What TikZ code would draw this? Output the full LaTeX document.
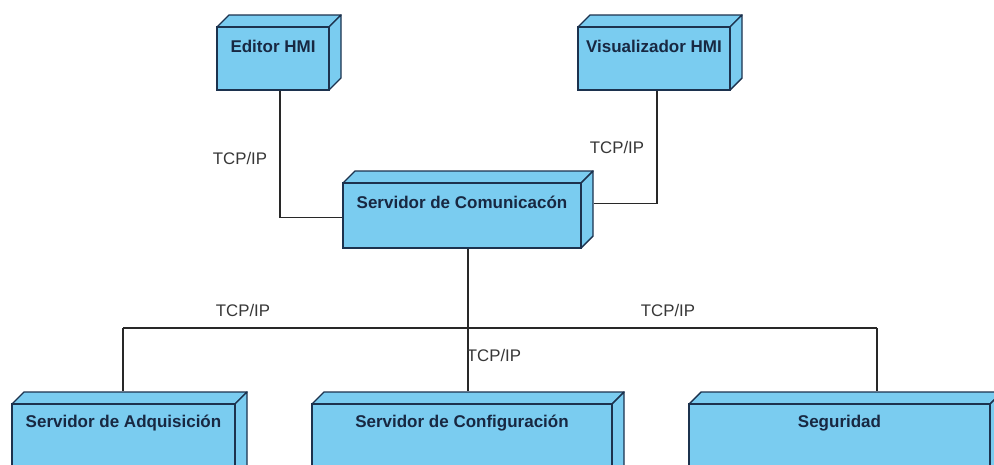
\documentclass[tikz,border=0pt]{standalone}
\usepackage{fontspec}
\setmainfont{Liberation Sans}
\usetikzlibrary{calc}

\definecolor{nodefill}{RGB}{122,204,240}
\definecolor{nodeline}{RGB}{28,50,78}
\definecolor{nodetext}{RGB}{24,40,66}
\definecolor{linkgray}{RGB}{40,40,40}
\definecolor{labelgray}{RGB}{55,55,55}

\tikzset{
  frontface/.style={draw=nodeline, fill=nodefill, line width=1.4pt, inner sep=0pt},
  faceside/.style={draw=nodeline, fill=nodefill, line width=1.4pt, line join=round},
  nodetitle/.style={text=nodetext, font=\fontsize{17}{19}\selectfont\bfseries, anchor=center, inner sep=0pt},
  link/.style={draw=linkgray, line width=1.2pt},
  proto/.style={text=labelgray, font=\fontsize{16.8}{19}\selectfont, inner sep=0pt},
}

% deployment node: name, left, top, right, bottom, title (pixel-style coordinates, y down)
\newcommand\deploynode[6]{%
  \path[faceside] (#2,#3) -- (#2+12,#3-12) -- (#4+12,#3-12) -- (#4,#3) -- cycle;
  \path[faceside] (#4,#3) -- (#4+12,#3-12) -- (#4+12,#5-12) -- (#4,#5) -- cycle;
  \node[frontface, minimum width=#4-#2, minimum height=#5-#3] (#1) at ({(#2+#4)/2},{(#3+#5)/2}) {};
  \node[nodetitle] (#1-title) at ({(#2+#4)/2},#3+19) {#6};
  \coordinate (#1-top) at ([yshift=12pt]#1.north);
}

\begin{document}
\begin{tikzpicture}[x=1pt,y=-1pt]
  \clip (0,0) rectangle (994,464);
  \fill[white] (0,0) rectangle (994,464);

  % upper tier
  \deploynode{ed}{217}{27}{329}{90}{Editor HMI}
  \deploynode{vis}{578}{27}{730}{90}{Visualizador HMI}
  \deploynode{com}{343}{183}{581}{248}{Servidor de Comunicacón}

  % lower tier
  \deploynode{adq}{12}{404}{235}{500}{Servidor de Adquisición}
  \deploynode{conf}{312}{404}{612}{500}{Servidor de Configuración}
  \deploynode{seg}{689}{404}{990}{500}{Seguridad}

  % attachment points
  \coordinate (comside) at ([xshift=12pt,yshift=12pt]com.east);
  \coordinate (busL) at (123,328);
  \coordinate (busR) at (877,328);

  % links
  \draw[link] ([xshift=7pt]ed.south) |- ([yshift=-2pt]com.west);
  \draw[link] ([xshift=3pt]vis.south) |- (comside);
  \draw[link] ([xshift=6pt]com.south) -- ([xshift=6pt]conf-top);
  \draw[link] (busL) -- (busR);
  \draw[link] (busL) -- (busL |- adq-top);
  \draw[link] (busR) -- (busR |- seg-top);

  % protocol labels
  \node[proto] (l1) at (240,158) {TCP/IP};
  \node[proto] (l2) at (617,147) {TCP/IP};
  \node[proto] (l3) at (243,310) {TCP/IP};
  \node[proto] (l4) at (494,355) {TCP/IP};
  \node[proto] (l5) at (668,310) {TCP/IP};
\end{tikzpicture}
\end{document}
